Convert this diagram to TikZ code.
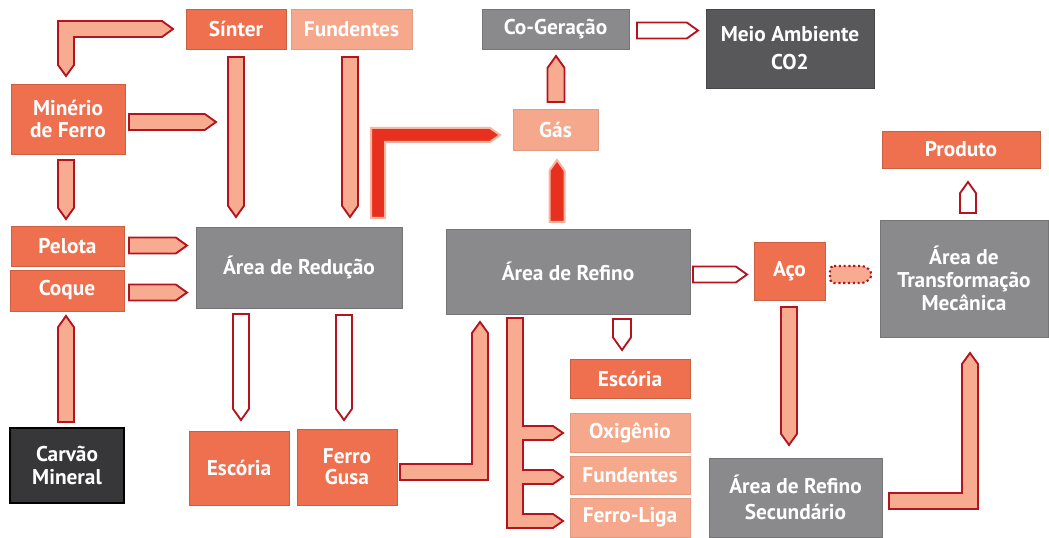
\documentclass[tikz,border=0pt]{standalone}
\usepackage{fontspec}
\setmainfont{PT Sans}
\definecolor{cor}{RGB}{238,112,78}
\definecolor{clight}{RGB}{246,168,140}
\definecolor{cgray}{RGB}{138,138,141}
\definecolor{cdark}{RGB}{88,88,90}
\definecolor{ccarv}{RGB}{55,55,57}
\definecolor{cline}{RGB}{180,20,30}
\definecolor{cfill}{RGB}{247,172,145}
\definecolor{cred}{RGB}{232,48,30}
\definecolor{cglow}{RGB}{250,180,160}
\tikzset{
 box/.style={rectangle, inner sep=0pt, outer sep=0pt, align=center, text=white, font=\bfseries\fontsize{16}{18}\selectfont},
 obox/.style={box, fill=cor, draw=cor!85!black, line width=0.5pt},
 lbox/.style={box, fill=clight, draw=clight!92!black, line width=0.5pt},
 gbox/.style={box, fill=cgray, draw=cgray!85!black, line width=0.5pt},
 dbox/.style={box, fill=cdark, draw=cdark!80!black, line width=0.5pt},
 cbox/.style={box, fill=ccarv, draw=black, line width=1pt},
 arw/.style={draw=cline, fill=cfill, line width=1.4pt, line join=miter},
 warw/.style={draw=cline, fill=white, line width=1.4pt, line join=miter},
 rarw/.style={draw=cglow, fill=cred, line width=1.5pt, line join=miter},
 darw/.style={draw=cline, fill=cfill, line width=1.6pt, dotted, rounded corners=3pt}
}
\newcommand\bx[7]{\node[#6, minimum width={(#4-#2)*0.75pt}, minimum height={(#5-#3)*0.75pt}] (#1) at ({(#2+#4)/2},{(#3+#5)/2}) {#7};}
% right arrow: style, x1, xtip, yc, w
\newcommand\arR[5]{\draw[#1] (#2,{#4-#5/2}) -- ({#3-0.7*#5},{#4-#5/2}) -- (#3,#4) -- ({#3-0.7*#5},{#4+#5/2}) -- (#2,{#4+#5/2}) -- cycle;}
% down arrow: style, xc, y1, ytip, w
\newcommand\arD[5]{\draw[#1] ({#2-#5/2},#3) -- ({#2-#5/2},{#4-0.7*#5}) -- (#2,#4) -- ({#2+#5/2},{#4-0.7*#5}) -- ({#2+#5/2},#3) -- cycle;}
% up arrow: style, xc, y1, ytip, w
\newcommand\arU[5]{\draw[#1] ({#2-#5/2},#3) -- ({#2-#5/2},{#4+0.7*#5}) -- (#2,#4) -- ({#2+#5/2},{#4+0.7*#5}) -- ({#2+#5/2},#3) -- cycle;}
\begin{document}
\begin{tikzpicture}[x=0.75pt,y=-0.75pt]
\useasboundingbox (0,0) rectangle (1049,538);
% boxes
\bx{sinter}{186}{9}{286}{49}{obox}{Sínter}
\bx{fund1}{291}{9}{412}{49}{lbox}{Fundentes}
\bx{minerio}{11}{84}{125}{154}{obox, font=\bfseries\fontsize{16}{16.5}\selectfont}{Minério\\de Ferro}
\bx{pelota}{11}{226}{124}{266}{obox}{Pelota}
\bx{coque}{10}{270}{124}{311}{obox}{Coque}
\bx{reducao}{196}{227}{402}{308}{gbox}{Área de Redução}
\bx{carvao}{10}{428}{124}{503}{cbox, font=\bfseries\fontsize{16}{17}\selectfont}{Carvão\\Mineral}
\bx{esc1}{189}{431}{289}{505}{obox}{Escória}
\bx{gusa}{297}{429}{397}{505}{obox, font=\bfseries\fontsize{16}{16}\selectfont}{Ferro\\Gusa}
\bx{refino}{446}{229}{690}{314}{gbox}{Área de Refino}
\bx{aco}{754}{242}{825}{300}{obox}{Aço}
\bx{esc2}{570}{359}{690}{398}{obox}{Escória}
\bx{oxi}{570}{413}{690}{452}{lbox}{Oxigênio}
\bx{fund2}{570}{456}{690}{494}{lbox}{Fundentes}
\bx{liga}{570}{498}{690}{537}{lbox}{Ferro-Liga}
\bx{sec}{709}{458}{882}{537}{gbox, font=\bfseries\fontsize{16}{20}\selectfont}{Área de Refino\\Secundário}
\bx{transf}{880}{220}{1048}{337}{gbox, font=\bfseries\fontsize{16}{17.5}\selectfont}{Área de\\Transformação\\Mecânica}
\bx{produto}{882}{131}{1040}{168}{obox}{Produto}
\bx{cogen}{482}{9}{629}{49}{gbox}{Co-Geração}
\bx{meio}{706}{9}{874}{88}{dbox, font=\bfseries\fontsize{16}{21}\selectfont}{Meio Ambiente\\CO2}
\bx{gas}{513}{109}{598}{150}{lbox}{Gás}
% arrows
\draw[arw] (58,21) -- (162,21) -- (173,29) -- (162,37) -- (74,37) -- (74,65) -- (66,76) -- (58,65) -- cycle;
\arR{arw}{129}{216}{122}{16}
\arD{arw}{66}{160}{219}{16}
\arD{arw}{236}{57}{217}{16}
\arD{arw}{350}{57}{217}{16}
\draw[rarw] (371,218) -- (371,128) -- (490,128) -- (500,135) -- (490,142) -- (385,142) -- (385,218) -- cycle;
\arR{arw}{129}{187}{245.5}{16}
\arR{arw}{129}{187}{292.5}{16}
\arU{arw}{66}{422}{316}{16}
\arD{warw}{241}{314}{420}{16}
\arD{warw}{344}{315}{420}{16}
\draw[arw] (400,464) -- (472,464) -- (472,333) -- (480,322) -- (488,333) -- (488,480) -- (400,480) -- cycle;
\draw[arw] (507,318) -- (523,318) -- (523,426) -- (553,426) -- (563,433) -- (553,440) -- (523,440) -- (523,470) -- (553,470) -- (563,477) -- (553,484) -- (523,484) -- (523,514) -- (553,514) -- (563,521) -- (553,528) -- (507,528) -- cycle;
\arD{warw}{622}{319}{350}{18}
\arR{warw}{693}{747}{274.5}{16}
\draw[darw] (830,266) -- (866,266) -- (873,274.5) -- (866,283) -- (830,283) -- cycle;
\arD{arw}{789}{307}{445}{16}
\draw[arw] (889,493) -- (962,493) -- (962,364) -- (970,353) -- (978,364) -- (978,509) -- (889,509) -- cycle;
\arU{warw}{968}{213}{182}{16}
\arU{arw}{556}{102}{56}{17}
\arU{rarw}{557}{222}{160}{15}
\arR{warw}{637}{698}{30.5}{16}
\end{tikzpicture}
\end{document}
